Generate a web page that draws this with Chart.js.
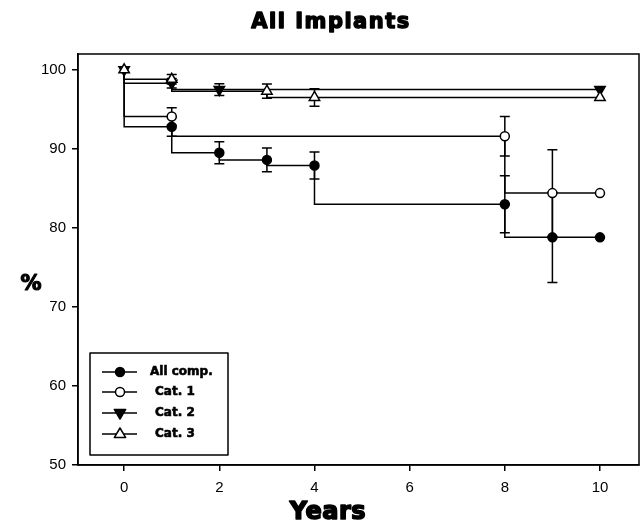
<!DOCTYPE html>
<html>
<head>
<meta charset="utf-8">
<title>All Implants</title>
<script src="https://cdn.jsdelivr.net/npm/chart.js@4"></script>
<style>
  html, body { margin: 0; padding: 0; background: #fff; }
  #wrap { width: 640px; height: 526px; }
</style>
</head>
<body>
<div id="wrap"><canvas id="kmChart"></canvas></div>
<script>
// survival (%), with half-width of the error bars
const seriesNames = ['All comp.', 'Cat. 1', 'Cat. 2', 'Cat. 3'];

const allCompYears = [0, 1, 2, 3, 4, 8, 9, 10];
const allCompPct   = [100, 92.8, 89.5, 88.6, 87.9, 83.0, 78.8, 78.8];
const allCompErr   = [0, 1.2, 1.4, 1.5, 1.7, 3.6, 5.7, 0];

const cat1Years = [0, 1, 8, 9, 10];
const cat1Pct   = [100, 94.1, 91.6, 84.4, 84.4];
const cat1Err   = [0, 1.1, 2.5, 5.5, 0];

const cat2Years = [0, 1, 2, 10];
const cat2Pct   = [100, 98.3, 97.5, 97.5];
const cat2Err   = [0, 0.6, 0.75, 0];

const cat3Years = [0, 1, 3, 4, 10];
const cat3Pct   = [100, 98.8, 97.3, 96.5, 96.5];
const cat3Err   = [0, 0.6, 0.9, 1.1, 0];

const xTickValues = [0, 2, 4, 6, 8, 10];
const yTickValues = [50, 60, 70, 80, 90, 100];

const toPoints = (xs, ys) => xs.map((x, i) => ({ x: x, y: ys[i] }));
const errors = [allCompErr, cat1Err, cat2Err, cat3Err];

// marker look for each series (also used by the legend)
const markers = [
  { style: 'circle',   radius: 4.5, rotation: 0,   fill: '#000' },
  { style: 'circle',   radius: 4.5, rotation: 0,   fill: '#fff' },
  { style: 'triangle', radius: 6,   rotation: 180, fill: '#000' },
  { style: 'triangle', radius: 6,   rotation: 0,   fill: '#fff' }
];

function drawMarker(ctx, m, x, y) {
  ctx.save();
  ctx.fillStyle = m.fill;
  ctx.strokeStyle = '#000';
  ctx.lineWidth = 1.5;
  ctx.beginPath();
  if (m.style === 'circle') {
    ctx.arc(x, y, m.radius, 0, Math.PI * 2);
  } else {
    const r = m.radius;
    const dir = m.rotation === 180 ? -1 : 1;
    ctx.moveTo(x, y - dir * r);
    ctx.lineTo(x - r * 0.95, y + dir * r * 0.6);
    ctx.lineTo(x + r * 0.95, y + dir * r * 0.6);
    ctx.closePath();
  }
  ctx.fill();
  ctx.stroke();
  ctx.restore();
}

// heavy text: fill plus a thin stroke to get closer to the black-weight font
function heavyText(ctx, txt, x, y, w) {
  ctx.lineWidth = w;
  ctx.strokeText(txt, x, y);
  ctx.fillText(txt, x, y);
}

const errorBars = {
  id: 'errorBars',
  beforeDatasetsDraw(chart) {
    const ctx = chart.ctx;
    const ys = chart.scales.y;
    ctx.save();
    ctx.strokeStyle = '#000';
    ctx.lineWidth = 1.5;
    chart.data.datasets.forEach((ds, i) => {
      const meta = chart.getDatasetMeta(i);
      meta.data.forEach((pt, j) => {
        const e = errors[i][j];
        if (!e) return;
        const v = ds.data[j].y;
        const top = ys.getPixelForValue(v + e);
        const bot = ys.getPixelForValue(v - e);
        ctx.beginPath();
        ctx.moveTo(pt.x, top); ctx.lineTo(pt.x, bot);
        ctx.moveTo(pt.x - 5, top); ctx.lineTo(pt.x + 5, top);
        ctx.moveTo(pt.x - 5, bot); ctx.lineTo(pt.x + 5, bot);
        ctx.stroke();
      });
    });
    ctx.restore();
  }
};

const frameAndText = {
  id: 'frameAndText',
  afterDraw(chart) {
    const ctx = chart.ctx;
    const a = chart.chartArea;
    ctx.save();
    ctx.strokeStyle = '#000';
    ctx.lineWidth = 1.5;
    ctx.strokeRect(a.left, a.top, a.right - a.left, a.bottom - a.top);

    ctx.fillStyle = '#000';
    ctx.textAlign = 'center';
    ctx.textBaseline = 'middle';
    ctx.lineJoin = 'round';
    ctx.font = 'bold 21px "DejaVu Sans"';
    ctx.letterSpacing = '1.5px';
    heavyText(ctx, 'All Implants', 331, 23, 1.4);
    ctx.letterSpacing = '0.5px';
    ctx.font = 'bold 24px "DejaVu Sans"';
    heavyText(ctx, 'Years', 328, 513, 1.6);
    ctx.letterSpacing = '0px';
    ctx.font = 'bold 21px "DejaVu Sans"';
    heavyText(ctx, '%', 31, 285, 1.2);

    // legend box
    const lx = 90, ly = 353, lw = 138, lh = 102;
    ctx.lineWidth = 1.5;
    ctx.fillStyle = '#fff';
    ctx.fillRect(lx, ly, lw, lh);
    ctx.strokeRect(lx, ly, lw, lh);
    ctx.font = 'bold 12px "DejaVu Sans"';
    ctx.textAlign = 'left';
    const rows = [372, 392, 413, 434];
    seriesNames.forEach((name, i) => {
      const y = rows[i];
      ctx.lineWidth = 1.5;
      ctx.beginPath();
      ctx.moveTo(102, y); ctx.lineTo(137, y);
      ctx.stroke();
      drawMarker(ctx, markers[i], 120, y);
      ctx.fillStyle = '#000';
      heavyText(ctx, name, i === 0 ? 150 : 155, y, 0.6);
    });
    ctx.restore();
  }
};

const datasets = [
  [allCompYears, allCompPct],
  [cat1Years, cat1Pct],
  [cat2Years, cat2Pct],
  [cat3Years, cat3Pct]
].map((s, i) => ({
  label: seriesNames[i],
  data: toPoints(s[0], s[1]),
  stepped: 'after',
  borderColor: '#000',
  borderWidth: 1.5,
  backgroundColor: markers[i].fill,
  pointStyle: markers[i].style,
  pointRotation: markers[i].rotation,
  pointRadius: c => (i < 2 && c.dataIndex === 0) ? 0 : markers[i].radius,
  pointBorderColor: '#000',
  pointBorderWidth: 1.5,
  pointBackgroundColor: markers[i].fill,
  order: 3 - i
}));

const tickFont = { family: '"Liberation Sans", Arial, sans-serif', size: 15 };

new Chart(document.getElementById('kmChart').getContext('2d'), {
  type: 'line',
  data: { datasets: datasets },
  options: {
    responsive: true,
    maintainAspectRatio: false,
    animation: false,
    layout: { autoPadding: false, padding: { top: 54, right: 1, bottom: 0, left: 0 } },
    plugins: {
      legend: { display: false },
      tooltip: { enabled: false }
    },
    scales: {
      x: {
        type: 'linear',
        min: -0.97,
        max: 10.82,
        afterBuildTicks: s => { s.ticks = xTickValues.map(v => ({ value: v })); },
        afterFit: s => { s.height = 61; s.paddingLeft = 0; s.paddingRight = 0; },
        ticks: { color: '#000', font: tickFont, padding: 8, maxRotation: 0 },
        grid: { drawOnChartArea: false, drawTicks: true, tickLength: 6, color: '#000', lineWidth: 1.5 },
        border: { display: true, color: '#000', width: 1.5 }
      },
      y: {
        type: 'linear',
        min: 50,
        max: 102,
        afterBuildTicks: s => { s.ticks = yTickValues.map(v => ({ value: v })); },
        afterFit: s => { s.width = 78; s.paddingTop = 0; s.paddingBottom = 0; },
        ticks: { color: '#000', font: tickFont, padding: 6 },
        grid: { drawOnChartArea: false, drawTicks: true, tickLength: 6, color: '#000', lineWidth: 1.5 },
        border: { display: true, color: '#000', width: 1.5 }
      }
    }
  },
  plugins: [errorBars, frameAndText]
});
</script>
</body>
</html>
